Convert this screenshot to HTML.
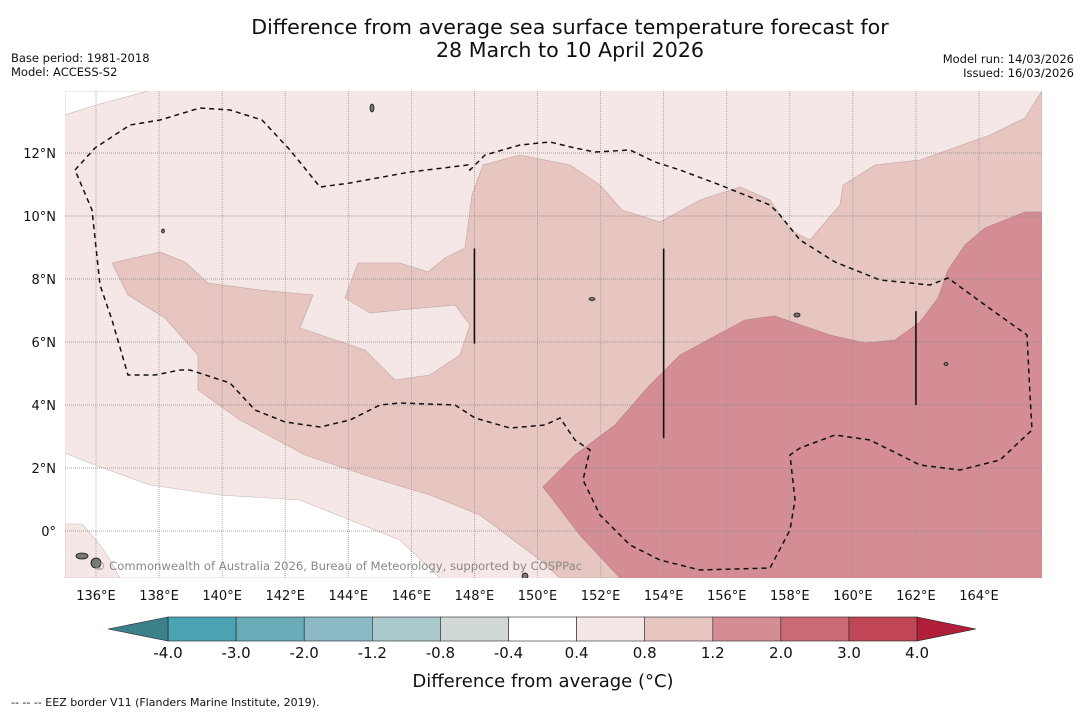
<!DOCTYPE html>
<html><head><meta charset="utf-8"><style>
body{margin:0;background:#fff;width:1085px;height:713px;overflow:hidden;font-family:"DejaVu Sans","Liberation Sans",sans-serif}
svg{position:absolute;left:0;top:0}
</style></head><body>
<svg id="chart" width="1085" height="713" viewBox="0 0 1085 713" xmlns="http://www.w3.org/2000/svg"></svg>
<script>
// ---- data ----
const lonTicks=[136,138,140,142,144,146,148,150,152,154,156,158,160,162,164];
const latTicks=[0,2,4,6,8,10,12];
const levels=["-4.0","-3.0","-2.0","-1.2","-0.8","-0.4","0.4","0.8","1.2","2.0","3.0","4.0"];
const levelColors=["#4aa3b2","#6aabb8","#8bb9c4","#aac9cc","#d0d8d8","#ffffff","#f5e7e6","#e7c6c2","#d58d95","#cb6a75","#c04655"];
function L(x){return 136+(x-96)/31.536;}
function A(y){return (531-y)/31.5;}
function P(pts){return pts.map(p=>[L(p[0]),A(p[1])]);}
const whiteTopLeft=P([[65,91],[148,91],[96,105],[65,115]]);
const whiteBottom=P([[65,453],[95,465],[150,485],[220,495],[300,500],[400,540],[440,578],[65,578]]);
const lightCorner=P([[65,524],[82,524],[100,545],[110,560],[120,578],[65,578]]);
const midRegion=P([[112,263],[160,252],[185,262],[208,283],[260,290],[313,295],[300,328],[365,350],[395,380],[430,375],[460,355],[470,325],[455,305],[400,310],[370,313],[345,298],[358,263],[400,263],[428,272],[445,258],[465,248],[472,195],[483,165],[520,155],[570,165],[600,185],[622,210],[660,222],[700,200],[740,187],[770,200],[790,230],[810,240],[840,205],[843,185],[875,165],[920,160],[990,135],[1025,118],[1042,91],[1042,578],[560,578],[540,560],[480,515],[430,495],[380,480],[305,455],[240,420],[198,390],[198,355],[165,318],[128,295]]);
const darkRegion=P([[543,487],[575,455],[615,425],[650,385],[680,355],[745,320],[775,316],[830,335],[865,343],[895,340],[920,322],[938,298],[948,270],[965,245],[985,228],[1025,212],[1042,212],[1042,578],[620,578],[580,535]]);
const dashed=P([[75,170],[95,148],[130,125],[160,120],[200,108],[230,110],[262,120],[290,150],[320,187],[350,183],[410,172],[468,165],[470,170],[485,155],[520,145],[550,142],[575,148],[595,152],[630,150],[655,162],[680,170],[720,185],[770,205],[780,215],[800,240],[835,262],[880,280],[930,285],[948,278],[985,305],[1027,335],[1030,395],[1032,430],[1000,460],[960,470],[920,465],[880,445],[870,440],[835,435],[800,448],[790,455],[795,500],[790,530],[770,568],[700,570],[660,560],[630,545],[600,515],[583,480],[590,450],[575,440],[560,418],[545,425],[510,428],[475,418],[455,405],[400,403],[380,405],[350,420],[320,427],[285,422],[255,410],[230,383],[190,370],[180,370],[155,375],[128,375],[112,320],[100,285],[92,210],[75,170]]);
const vLines=[[148,8.97,5.95],[154,8.97,2.95],[162,6.98,4.0]];
// ---- axes ----
const X0=65,X1=1042,Y0=91,Y1=578;
const x=lon=>96+(lon-136)*31.536;
const y=lat=>531-lat*31.5;
const NS="http://www.w3.org/2000/svg";
const svg=document.getElementById('chart');
function el(t,a,p){const e=document.createElementNS(NS,t);for(const k in a)e.setAttribute(k,a[k]);(p||svg).appendChild(e);return e;}
function poly(pts){return pts.map(p=>x(p[0]).toFixed(1)+','+y(p[1]).toFixed(1)).join(' ');}
const clip=el('clipPath',{id:'pc'});el('rect',{x:X0,y:Y0,width:X1-X0,height:Y1-Y0},clip);
const g=el('g',{'clip-path':'url(#pc)'});
let e;
e=el('rect',{x:X0,y:Y0,width:X1-X0,height:Y1-Y0,fill:levelColors[6]},g);

e=el('polygon',{points:poly(whiteTopLeft),fill:'#fff',stroke:'#c9b8b6','stroke-width':0.6},g);

e=el('polygon',{points:poly(whiteBottom),fill:'#fff',stroke:'#c9b8b6','stroke-width':0.6},g);

e=el('polygon',{points:poly(lightCorner),fill:levelColors[6],stroke:'#c9b8b6','stroke-width':0.6},g);

e=el('polygon',{points:poly(midRegion),fill:levelColors[7],stroke:'#bfa3a0','stroke-width':0.6},g);

e=el('polygon',{points:poly(darkRegion),fill:levelColors[8],stroke:'#b07a80','stroke-width':0.6},g);

lonTicks.forEach(lo=>{const l=el('line',{x1:x(lo),x2:x(lo),y1:Y0,y2:Y1,stroke:'#999','stroke-width':0.8,'stroke-dasharray':'1,1'},g);
});
latTicks.forEach(la=>{const l=el('line',{x1:X0,x2:X1,y1:y(la),y2:y(la),stroke:'#888','stroke-width':0.8,'stroke-dasharray':'1,1'},g);
});
e=el('polyline',{points:poly(dashed),fill:'none',stroke:'#111','stroke-width':1.5,'stroke-dasharray':'5,4'},g);

vLines.forEach(v=>{const l=el('line',{x1:x(v[0]),x2:x(v[0]),y1:y(v[1]),y2:y(v[2]),stroke:'#111','stroke-width':1.6},g);
});
[[82,556,6,3],[96,563,5,5],[372,108,2,4],[797,315,3,2],[592,299,3,1.5],[946,364,2,1.5],[163,231,1.5,2],[525,576,3,3]].forEach(i=>{
const s=el('ellipse',{cx:i[0],cy:i[1],rx:i[2],ry:i[3],fill:'#777',stroke:'#111','stroke-width':0.8},g);
});
e=el('text',{x:338,y:570,'font-size':11.6,fill:'#888','text-anchor':'middle'},g);
e.textContent='© Commonwealth of Australia 2026, Bureau of Meteorology, supported by COSPPac';

lonTicks.forEach(lo=>{const t=el('text',{x:x(lo),y:600,'font-size':13,'text-anchor':'middle',fill:'#111'});t.textContent=lo+'°E';
});
latTicks.forEach(la=>{const t=el('text',{x:56,y:y(la)+5,'font-size':13,'text-anchor':'end',fill:'#111'});t.textContent=la===0?'0°':la+'°N';
});
const CB0=168,CBW=68.1,CY=617,CH=24;
const cb=el('g',{});
levelColors.forEach((c,i)=>{
const r=el('rect',{x:CB0+i*CBW,y:CY,width:CBW,height:CH,fill:c,stroke:'#222','stroke-width':0.6},cb);
});
e=el('polygon',{points:`${CB0},${CY} 108,${CY+CH/2} ${CB0},${CY+CH}`,fill:'#3c8089',stroke:'#222','stroke-width':0.6},cb);

const right=CB0+levelColors.length*CBW;
e=el('polygon',{points:`${right},${CY} 976,${CY+CH/2} ${right},${CY+CH}`,fill:'#b11e3a',stroke:'#222','stroke-width':0.6},cb);

levels.forEach((lv,i)=>{const t=el('text',{x:CB0+i*CBW,y:658,'font-size':15,'text-anchor':'middle',fill:'#111'});t.textContent=lv;
});
function txt(s,a,name){const t=el('text',a);t.textContent=s;return t;}
txt('Difference from average (°C)',{x:543,y:687,'font-size':18,'text-anchor':'middle',fill:'#111'},'colorbar-title');
txt('Difference from average sea surface temperature forecast for',{x:570,y:34,'font-size':20.6,'text-anchor':'middle',fill:'#111'},'chart-title');
txt('28 March to 10 April 2026',{x:570,y:57,'font-size':20.6,'text-anchor':'middle',fill:'#111'},'chart-subtitle');
txt('Base period: 1981-2018',{x:11,y:62,'font-size':11.5,fill:'#111'},'base-period');
txt('Model: ACCESS-S2',{x:11,y:76,'font-size':11.5,fill:'#111'},'model-name');
txt('Model run: 14/03/2026',{x:1074,y:63,'font-size':11.5,'text-anchor':'end',fill:'#111'},'model-run');
txt('Issued: 16/03/2026',{x:1074,y:77,'font-size':11.5,'text-anchor':'end',fill:'#111'},'issued-date');
txt('--  --  -- EEZ border V11 (Flanders Marine Institute, 2019).',{x:11,y:706,'font-size':11,fill:'#111','xml:space':'preserve'},'eez-legend');
</script>
</body></html>
